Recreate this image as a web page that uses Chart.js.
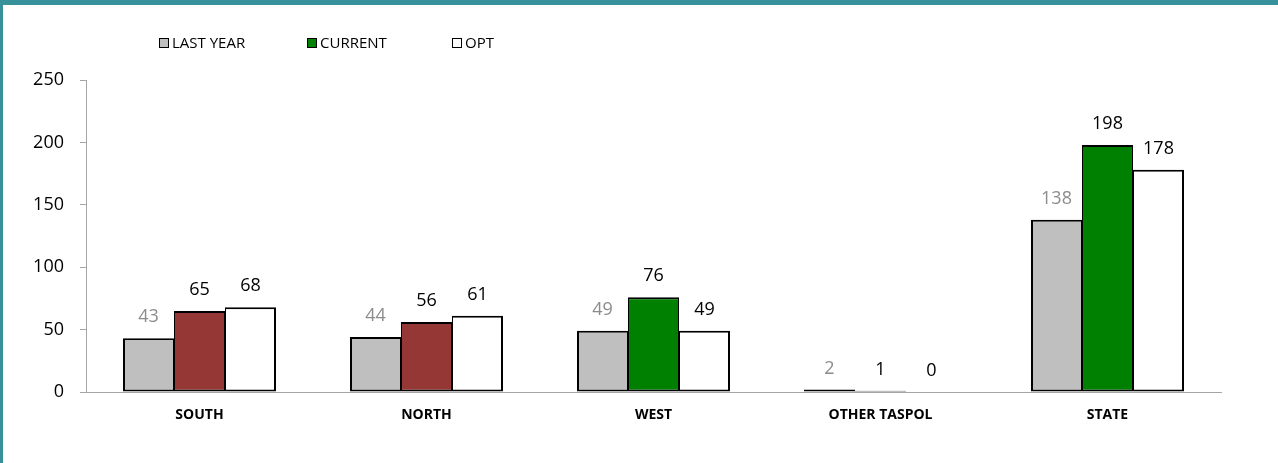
<!DOCTYPE html>
<html>
<head>
<meta charset="utf-8">
<script src="https://cdn.jsdelivr.net/npm/chart.js@4"></script>
<style>
  html, body { margin: 0; padding: 0; background: #fff; }
  #wrap { position: relative; width: 1278px; height: 463px; overflow: hidden; }
  #frame { position: absolute; left: 0; top: 0; width: 1278px; height: 463px; box-sizing: border-box;
           border-top: 5px solid #36919a; border-left: 3px solid #36919a; pointer-events: none; }
  #legend { position: absolute; top: 33px; left: 0; font-family: "Open Sans", sans-serif; font-size: 15px; color: #000; }
  .item { position: absolute; white-space: nowrap; line-height: 18px; }
  .box { display: inline-block; width: 8px; height: 8px; border: 1.5px solid #000; vertical-align: 0px; margin-right: 3px; }
</style>
</head>
<body>
<div id="wrap">
  <canvas id="myChart" width="1278" height="463"></canvas>
  <div id="legend"></div>
  <div id="frame"></div>
</div>
<script>
// dados do grafico
const categorias = ["SOUTH", "NORTH", "WEST", "OTHER TASPOL", "STATE"];
const lastYear = [43, 44, 49, 2, 138];
const current = [65, 56, 76, 1, 198];
const opt = [68, 61, 49, 0, 178];
const coresCurrent = ["#953735", "#953735", "#008000", "#008000", "#008000"];
const ticksY = [0, 50, 100, 150, 200, 250];

// legenda feita a mao (posicao igual ao original)
const legendItems = [
  { text: "LAST YEAR", color: "#bfbfbf", left: 159 },
  { text: "CURRENT", color: "#008000", left: 307 },
  { text: "OPT", color: "#ffffff", left: 452 }
];
const legend = document.getElementById('legend');
legendItems.forEach(function (it) {
  const d = document.createElement('div');
  d.className = 'item';
  d.style.left = it.left + 'px';
  d.innerHTML = '<span class="box" style="background:' + it.color + '"></span>' + it.text;
  legend.appendChild(d);
});

// rotulos em cima das barras
const rotulos = {
  id: 'rotulos',
  afterDatasetsDraw(chart) {
    const ctx = chart.ctx;
    ctx.save();
    ctx.font = '18px "Open Sans", sans-serif';
    ctx.textAlign = 'center';
    ctx.textBaseline = 'alphabetic';
    chart.data.datasets.forEach(function (ds, i) {
      const meta = chart.getDatasetMeta(i);
      ctx.fillStyle = i === 0 ? '#8c8c8c' : '#000000';
      meta.data.forEach(function (bar, j) {
        ctx.fillText(String(ds.data[j]), bar.x, bar.y - 16);
      });
    });
    ctx.restore();
  }
};

// borda compartilhada entre barras vizinhas (como no excel)
function borda(lado) {
  return function (c) {
    if (c.raw === 0) return 0;
    return { top: 2, bottom: 2, left: lado === 'r' ? 1 : (lado === 'm' ? 1 : 2), right: lado === 'r' ? 2 : 1 };
  };
}

const data = {
  labels: categorias,
  datasets: [{
    label: 'LAST YEAR',
    data: lastYear,
    backgroundColor: '#bfbfbf',
    borderWidth: borda('l')
  }, {
    label: 'CURRENT',
    data: current,
    backgroundColor: coresCurrent,
    borderWidth: borda('m')
  }, {
    label: 'OPT',
    data: opt,
    backgroundColor: '#ffffff',
    borderWidth: borda('r')
  }]
};

const config = {
  type: 'bar',
  data: data,
  options: {
    responsive: false,
    animation: false,
    datasets: {
      bar: {
        categoryPercentage: 153 / 227,
        barPercentage: 1,
        borderColor: '#000000',
        borderSkipped: false,
        inflateAmount: 0
      }
    },
    layout: { padding: { top: 80, right: 57, bottom: 0, left: 0 } },
    scales: {
      x: {
        grid: { display: true, drawOnChartArea: false, drawTicks: false },
        border: { color: '#a6a6a6', width: 1 },
        ticks: { color: '#000', padding: 15, font: { family: 'Open Sans', size: 14, weight: 'bold' } },
        afterFit: function (s) { s.height = 71; }
      },
      y: {
        min: 0,
        max: 250,
        afterBuildTicks: function (s) { s.ticks = ticksY.map(function (v) { return { value: v }; }); },
        grid: { drawOnChartArea: false, drawTicks: true, tickLength: 6, color: '#a6a6a6' },
        border: { color: '#a6a6a6', width: 1 },
        ticks: { color: '#000', padding: 16, font: { family: 'Open Sans', size: 18 } },
        afterFit: function (s) { s.width = 86; }
      }
    },
    plugins: {
      legend: { display: false },
      tooltip: { enabled: false }
    }
  },
  plugins: [rotulos]
};

const myChart = new Chart(document.getElementById('myChart'), config);
</script>
</body>
</html>
